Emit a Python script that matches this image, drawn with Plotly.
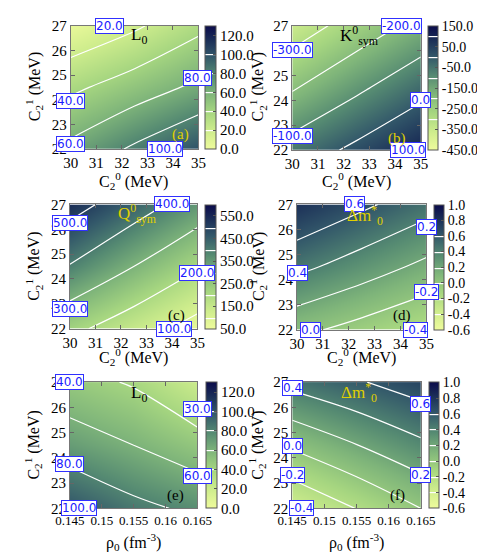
import plotly.graph_objects as go

# grids (C2^0, C2^1, rho0) on which values were read
c20 = [30, 32.5, 35]
c21 = [22, 24.5, 27]
rho0 = [0.145, 0.155, 0.165]

# panel values, rows follow c21, columns follow c20 / rho0
L0_a = [[65, 83, 100], [36, 50, 64], [3, 17, 35]]
Ksym_b = [[-58, 21, 100], [-209, -118, -32], [-353, -258, -169]]
Qsym_c = [[223, 145, 66], [395, 300, 208], [537, 445, 354]]
dm_d = [[0.05, -0.07, -0.19], [0.45, 0.30, 0.15], [0.80, 0.64, 0.48]]
L0_e = [[99, 85, 76], [70, 60, 48], [47, 38, 20]]
dm_f = [[-0.39, -0.195, 0.0], [0.03, 0.195, 0.36], [0.46, 0.58, 0.70]]

# contour label texts
labels_a = ["20.0", "40.0", "60.0", "80.0", "100.0"]
labels_b = ["-300.0", "-200.0", "-100.0", "0.0", "100.0"]
labels_c = ["500.0", "400.0", "300.0", "200.0", "100.0"]
labels_d = ["0.6", "0.4", "0.2", "-0.2", "0.0", "-0.4"]
labels_e = ["40.0", "30.0", "80.0", "60.0", "100.0"]
labels_f = ["0.4", "0.6", "0.0", "-0.2", "0.2", "-0.4"]

c20_ticks = [30, 31, 32, 33, 34, 35]
c21_ticks = [22, 23, 24, 25, 26, 27]
rho_ticks = [0.145, 0.15, 0.155, 0.16, 0.165]
rho_ticktext = ["0.145", "0.15", "0.155", "0.16", "0.165"]

cscale = [[0, '#eefb9c'], [0.15, '#cdec8c'], [0.3, '#a6d680'], [0.45, '#7fb57a'],
          [0.6, '#558a72'], [0.75, '#33586a'], [0.88, '#1c3058'], [1, '#0b0b4b']]

W, H = 485, 554
SERIF = "Liberation Serif"

def px_x(p):
    return p / W

def px_y(p):
    return 1 - p / H

panels = [
    dict(x=c20, z=L0_a, zr=(0, 130), cb=(0, 120, 20), lv=(20, 100, 20),
         box=(51, 187, 10, 137), cbx=194, labels=labels_a,
         lpos=[(31.53, 27.0), (30.0, 23.94), (30.0, 22.2), (34.95, 24.9), (33.7, 22.0)],
         name="L<sub>0</sub>", npos=(32.66, 26.6), ncol="black",
         tag="(a)", tpos=(34.31, 22.6), tcol="#e0d000", xt="C<sub>2</sub><sup>0</sup> (MeV)",
         xtpos=(118, 170), ytpos=(12, 73)),
    dict(x=c20, z=Ksym_b, zr=(-450, 150), cb=(-450, 150, 100), lv=(-300, 100, 100),
         box=(287, 424, 10, 138), cbx=432, labels=labels_b,
         lpos=[(30.0, 26.02), (34.26, 27.0), (30.0, 22.57), (35.0, 24.03), (34.52, 22.0)],
         name="K<sup>0</sup><sub>sym</sub>", npos=(32.6, 26.6), ncol="black",
         tag="(b)", tpos=(34.07, 22.47), tcol="#e0d000", xt="C<sub>2</sub><sup>0</sup> (MeV)",
         xtpos=(356, 170), ytpos=(250, 73)),
    dict(x=c20, z=Qsym_c, zr=(50, 600), cb=(50, 550, 100), lv=(100, 500, 100),
         box=(50, 186, 194, 322), cbx=194, labels=labels_c,
         lpos=[(30.0, 26.24), (34.0, 27.0), (30.0, 22.8), (35.0, 24.25), (34.06, 22.0)],
         name="Q<sup>0</sup><sub>sym</sub>", npos=(32.64, 26.63), ncol="#e0d000",
         tag="(c)", tpos=(34.18, 22.54), tcol="black", xt="C<sub>2</sub><sup>0</sup> (MeV)",
         xtpos=(118, 351), ytpos=(11, 258)),
    dict(x=c20, z=dm_d, zr=(-0.6, 1.0), cb=(-0.6, 1.0, 0.2), lv=(-0.4, 0.6, 0.2),
         box=(292, 430, 194, 323), cbx=438, labels=labels_d,
         lpos=[(32.22, 27.0), (30.04, 24.26), (35.0, 26.09), (35.0, 23.52), (30.52, 22.0), (34.58, 22.0)],
         name="Δm<sup>*</sup><sub>0</sub>", npos=(32.64, 26.57), ncol="#e0d000",
         tag="(d)", tpos=(34.04, 22.55), tcol="black", xt="C<sub>2</sub><sup>0</sup> (MeV)",
         xtpos=(361, 351), ytpos=(250, 258)),
    dict(x=rho0, z=L0_e, zr=(0, 130), cb=(0, 120, 20), lv=(40, 100, 20),
         box=(50, 186, 377, 507), cbx=195, labels=labels_e,
         lpos=[(0.145, 27.0), (0.165, 25.92), (0.145, 23.76), (0.165, 23.3), (0.1465, 22.0)],
         name="L<sub>0</sub>", npos=(0.1558, 26.52), ncol="black",
         tag="(e)", tpos=(0.1615, 22.5), tcol="black", xt="ρ<sub>0</sub> (fm<sup>-3</sup>)",
         xtpos=(118, 542), ytpos=(11, 442)),
    dict(x=rho0, z=dm_f, zr=(-0.6, 1.0), cb=(-0.6, 1.0, 0.2), lv=(-0.4, 0.6, 0.2),
         box=(287, 424, 377, 507), cbx=433, labels=labels_f,
         lpos=[(0.145, 26.78), (0.165, 26.13), (0.145, 24.48), (0.145, 23.33), (0.165, 23.33), (0.1464, 22.0)],
         name="Δm<sup>*</sup><sub>0</sub>", npos=(0.1554, 26.6), ncol="#e0d000",
         tag="(f)", tpos=(0.1614, 22.5), tcol="black", xt="ρ<sub>0</sub> (fm<sup>-3</sup>)",
         xtpos=(356, 542), ytpos=(250, 442)),
]

fig = go.Figure()
annotations = []
layout = {}

for i, p in enumerate(panels, start=1):
    xa = "x" if i == 1 else f"x{i}"
    ya = "y" if i == 1 else f"y{i}"
    x0, x1, y0, y1 = p["box"]
    lo, hi, st = p["cb"]
    n = int(round((hi - lo) / st))
    cbt = [lo + k * st for k in range(n + 1)]
    right_col = x0 > 240
    fig.add_trace(go.Contour(
        x=p["x"], y=c21, z=p["z"], xaxis=xa, yaxis=ya,
        zmin=p["zr"][0], zmax=p["zr"][1], colorscale=cscale,
        contours=dict(start=p["lv"][0], end=p["lv"][1], size=p["lv"][2],
                      coloring="heatmap", showlines=True),
        line=dict(color="white", width=1.2),
        colorbar=dict(x=px_x(p["cbx"]), xanchor="left", xpad=0, ypad=0,
                      y=px_y(y1), yanchor="bottom", len=(y1 - y0) / H, lenmode="fraction",
                      thickness=10 if right_col else 11, outlinewidth=1, outlinecolor="#555",
                      tickvals=cbt, ticktext=[f"{v:.1f}" for v in cbt],
                      ticks="inside", ticklen=3, tickcolor="#555",
                      tickfont=dict(family=SERIF, size=14 if right_col else 15, color="black")),
        hoverinfo="skip",
    ))
    is_rho = p["x"] is rho0
    xkey = "xaxis" if i == 1 else f"xaxis{i}"
    ykey = "yaxis" if i == 1 else f"yaxis{i}"
    layout[xkey] = dict(domain=[px_x(x0), px_x(x1)], anchor=ya,
                        range=[p["x"][0], p["x"][-1]],
                        tickvals=rho_ticks if is_rho else c20_ticks,
                        ticktext=rho_ticktext if is_rho else [str(t) for t in c20_ticks],
                        tickangle=0,
                        ticks="inside", ticklen=4, tickcolor="#666", mirror="allticks",
                        showline=True, linecolor="#777", linewidth=1, showgrid=False,
                        zeroline=False,
                        tickfont=dict(family=SERIF, size=13 if is_rho else 15, color="black"))
    layout[ykey] = dict(domain=[px_y(y1), px_y(y0)], anchor=xa, range=[22, 27],
                        tickvals=c21_ticks, ticks="inside", ticklen=4, tickcolor="#666",
                        mirror="allticks", showline=True, linecolor="#777", linewidth=1,
                        showgrid=False, zeroline=False,
                        tickfont=dict(family=SERIF, size=15, color="black"))
    for txt, (lx, ly) in zip(p["labels"], p["lpos"]):
        annotations.append(dict(x=lx, y=ly, xref=xa, yref=ya, text=txt, showarrow=False,
                                xanchor="center", yanchor="middle",
                                font=dict(family="DejaVu Sans", size=12, color="#1a1aff"),
                                bgcolor="white", bordercolor="#3030ff", borderwidth=1,
                                borderpad=0))
    annotations.append(dict(x=p["npos"][0], y=p["npos"][1], xref=xa, yref=ya, text=p["name"],
                            xanchor="center", yanchor="middle", showarrow=False,
                            font=dict(family=SERIF, size=17, color=p["ncol"])))
    annotations.append(dict(x=p["tpos"][0], y=p["tpos"][1], xref=xa, yref=ya, text=p["tag"],
                            xanchor="center", yanchor="middle", showarrow=False,
                            font=dict(family=SERIF, size=15, color=p["tcol"])))
    annotations.append(dict(x=px_x(p["xtpos"][0]), y=px_y(p["xtpos"][1]), xref="paper",
                            yref="paper", text=p["xt"], showarrow=False,
                            xanchor="center", yanchor="middle",
                            font=dict(family=SERIF, size=16, color="black")))
    annotations.append(dict(x=px_x(p["ytpos"][0]), y=px_y(p["ytpos"][1]), xref="paper",
                            yref="paper", text="C<sub>2</sub><sup>1</sup> (MeV)", textangle=-90,
                            xanchor="center", yanchor="middle", showarrow=False,
                            font=dict(family=SERIF, size=16, color="black")))

fig.update_layout(width=W, height=H, margin=dict(l=0, r=0, t=0, b=0),
                  paper_bgcolor="white", plot_bgcolor="white", showlegend=False,
                  annotations=annotations, **layout)
fig.write_html("out.html")
